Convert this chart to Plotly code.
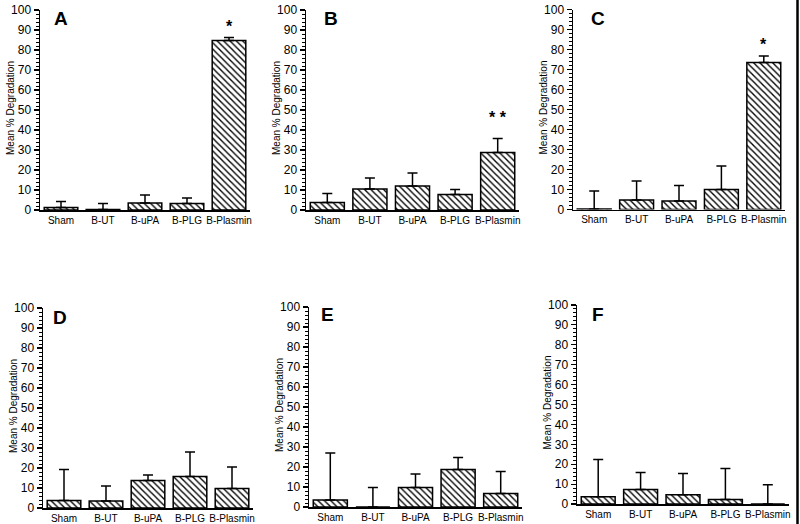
import plotly.graph_objects as go

W, H = 800, 524

categories = ["Sham", "B-UT", "B-uPA", "B-PLG", "B-Plasmin"]
panel_letters = ["A", "B", "C", "D", "E", "F"]

mean_A = [1.3, 0.3, 3.5, 3.2, 84.7]
err_A = [2.9, 3.0, 4.0, 2.8, 1.5]
mean_B = [3.7, 10.5, 12.0, 7.8, 28.8]
err_B = [4.6, 5.5, 6.5, 2.5, 7.0]
mean_C = [0.3, 4.8, 4.3, 10.0, 73.5]
err_C = [9.0, 9.4, 7.7, 11.7, 3.3]
mean_D = [3.8, 3.5, 13.7, 15.8, 9.8]
err_D = [15.5, 7.5, 2.8, 12.2, 10.7]
mean_E = [3.5, 0.0, 9.7, 18.7, 6.7]
err_E = [23.5, 9.7, 6.8, 6.0, 11.0]
mean_F = [3.7, 7.3, 4.7, 2.3, 0.0]
err_F = [18.6, 8.5, 10.6, 15.5, 9.7]

# significance marks: text per panel and the y value where they sit
sig_text = {"A": "*", "B": "* *", "C": "*"}
sig_y = {"A": 94, "B": 48.5, "C": 85}

y_ticks = list(range(0, 101, 10))

means = [mean_A, mean_B, mean_C, mean_D, mean_E, mean_F]
errs = [err_A, err_B, err_C, err_D, err_E, err_F]

# window-pixel layout of each panel: (x_left, x_right, y_top, y_bottom)
boxes = [
    (40, 250, 10, 210),
    (306, 519, 10, 210),
    (573, 785, 9.5, 209.5),
    (43, 253, 308, 508),
    (309, 522, 307, 507),
    (577, 789, 305, 504),
]
letter_pos = [(61, 19), (331, 19), (598, 18), (60, 317), (327, 315), (598, 314)]

FONT = "Liberation Sans, Arial, Helvetica, sans-serif"


def px(x):
    return x / W


def py(y):
    return (H - y) / H


fig = go.Figure()
layout = dict(
    template="none",
    width=W, height=H, margin=dict(l=0, r=0, t=0, b=0, autoexpand=False),
    paper_bgcolor="white", plot_bgcolor="white", showlegend=False,
    font=dict(family=FONT, color="black"),
    annotations=[], shapes=[],
)

for i, (m, e) in enumerate(zip(means, errs)):
    xl, xr, yt, yb = boxes[i]
    xa = "x" if i == 0 else f"x{i+1}"
    ya = "y" if i == 0 else f"y{i+1}"
    fig.add_trace(go.Bar(
        x=categories, y=m, xaxis=xa, yaxis=ya,
        marker=dict(color="white",
                    line=dict(color="black", width=1.5),
                    pattern=dict(shape="\\", fgcolor="black", bgcolor="white",
                                 size=4.5, solidity=0.3)),
        error_y=dict(type="data", array=e, arrayminus=[0]*5, symmetric=False,
                     color="black", thickness=1.5, width=5),
        width=0.8, hoverinfo="skip",
    ))
    xkey = "xaxis" if i == 0 else f"xaxis{i+1}"
    ykey = "yaxis" if i == 0 else f"yaxis{i+1}"
    layout[xkey] = dict(
        domain=[px(xl), px(xr)], anchor=ya, range=[-0.5, 4.5],
        showline=True, linecolor="black", linewidth=1.5,
        ticks="",
        showgrid=False, zeroline=False, automargin=False,
        ticklabeloverflow="allow",
        tickfont=dict(size=10, family=FONT, color="black"),
        fixedrange=True,
    )
    layout[ykey] = dict(
        domain=[py(yb), py(yt)], anchor=xa, range=[0, 100],
        tickvals=y_ticks, showline=True, linecolor="black", linewidth=1.5,
        ticks="outside", ticklen=5, tickwidth=1.2, tickcolor="black",
        minor=dict(dtick=2, ticks="outside", ticklen=2.5, tickwidth=1, tickcolor="black"),
        showgrid=False, zeroline=False, automargin=False,
        ticklabeloverflow="allow",
        tickfont=dict(size=12, family=FONT, color="black"),
        fixedrange=True,
    )
    # y-axis title
    layout["annotations"].append(dict(
        text="Mean % Degradation", xref="paper", yref="paper",
        x=px(xl - 30), y=py((yt + yb) / 2 - 2),
        textangle=-90, showarrow=False, xanchor="center", yanchor="middle",
        font=dict(size=10, family=FONT, color="black"),
    ))
    # panel letter
    lx, ly = letter_pos[i]
    layout["annotations"].append(dict(
        text=f"<b>{panel_letters[i]}</b>", xref="paper", yref="paper",
        x=px(lx), y=py(ly), showarrow=False,
        xanchor="center", yanchor="middle",
        font=dict(size=19, family=FONT, color="black"),
    ))
    letter = panel_letters[i]
    if letter in sig_text:
        layout["annotations"].append(dict(
            text=f"<b>{sig_text[letter]}</b>", xref=xa, yref=ya,
            x=categories[4], y=sig_y[letter], showarrow=False,
            xanchor="center", yanchor="middle", yshift=-5,
            font=dict(size=16, family=FONT, color="black"),
        ))

# scan border line at the right edge
layout["shapes"].append(dict(type="line", xref="paper", yref="paper",
                             x0=px(797.5), x1=px(797.5), y0=0, y1=1,
                             line=dict(color="black", width=2.5)))

fig.update_layout(**layout)
# remove the browser's default 8px page margin so the figure fills the window
fig.write_html("out.html",
               config={"displayModeBar": False, "staticPlot": True},
               post_script="document.body.style.margin='0';document.body.style.overflow='hidden';")
